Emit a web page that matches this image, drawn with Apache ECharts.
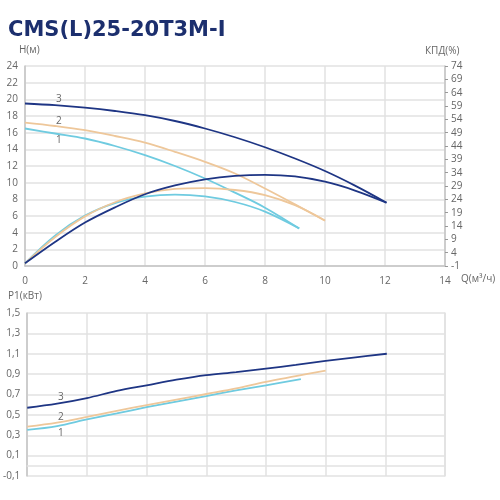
<!DOCTYPE html>
<html><head><meta charset="utf-8">
<script src="https://cdn.jsdelivr.net/npm/echarts@6/dist/echarts.min.js"></script>
<style>html,body{margin:0;padding:0;background:#fff}#c{width:500px;height:500px}</style>
</head><body><div id="c"></div>
<script>
// Flow Q (m3/h)
const q3 = [0,1,2,3,4,5,6,7,8,9,10,11,12.05];
const q2 = [0,1,2,3,4,5,6,7,8,9,10];
const q1 = [0,1,2,3,4,5,6,7,8,9.14];
// Head H (m)
const head3 = [19.5,19.3,19.0,18.6,18.1,17.4,16.5,15.45,14.25,12.9,11.4,9.65,7.6];
const head2 = [17.2,16.8,16.3,15.6,14.8,13.7,12.5,11.1,9.3,7.4,5.45];
const head1 = [16.5,15.9,15.3,14.4,13.3,12.0,10.5,8.8,7.0,4.5];
// Efficiency (%)
const eff3 = [0,8,15.3,21,25.9,29.2,31.5,32.8,33.2,32.6,30.6,27.3,22.75];
const eff2 = [0,9.8,17.6,22.9,26.2,27.9,28.2,27.5,25.6,21.8,16.0];
const eff1 = [0,10.4,17.9,22.6,25.0,25.8,25.1,23.0,19.4,13.1];
// Power P1 (kW)
const p3 = [0.57,0.61,0.665,0.735,0.79,0.845,0.89,0.92,0.955,0.99,1.03,1.065,1.1];
const p2 = [0.385,0.425,0.48,0.54,0.595,0.65,0.705,0.76,0.825,0.88,0.935];
const p1x = [0,1,2,3,4,5,6,7,8,9.17];
const p1 = [0.352,0.39,0.455,0.515,0.575,0.63,0.685,0.74,0.79,0.85];
// Curve labels
const curveNames = ['1','2','3'];
const headLabelY = [15.1,17.4,20.0];
const powerLabelY = [0.32,0.48,0.675];
const labelX = 1.13;

const C3 = '#1e3584', C2 = '#eec79a', C1 = '#6fcbe0';
const gridC = '#e2e2e2', axisC = '#c4c4c4', txtC = '#666';
const FONT = 'Open Sans, sans-serif';

function pairs(xs, ys){ return xs.map((x,i)=>[x, ys[i]]); }
function line(name, data, color, xi, yi, lbl){
  const s = {type:'line', name, data, xAxisIndex:xi, yAxisIndex:yi, smooth:0.35, symbol:'none',
    lineStyle:{color, width:1.8}, z:3, silent:true};
  if (lbl) {
    s.markPoint = {symbol:'circle', symbolSize:0, silent:true,
      label:{show:true, formatter:lbl.t, color:txtC, fontSize:10, fontFamily:FONT},
      data:[{coord:[labelX, lbl.y]}]};
  }
  return s;
}

const chart = echarts.init(document.getElementById('c'), null, {renderer:'canvas'});
const axisLabel = {color:txtC, fontSize:10, fontFamily:FONT};
chart.setOption({
  animation:false,
  title:{text:'CMS(L)25-20T3M-I', left:3, top:15,
    textStyle:{color:'#1c2f6e', fontSize:21, fontWeight:'bold', fontFamily:'DejaVu Sans, sans-serif'}},
  grid:[
    {left:25, right:55, top:66, height:200},
    {left:25, right:55, top:313, height:163}
  ],
  xAxis:[
    {gridIndex:0, type:'value', min:0, max:14, interval:2,
      axisLine:{show:true, lineStyle:{color:axisC, width:1.5}}, axisTick:{show:false},
      axisLabel:Object.assign({margin:10}, axisLabel),
      splitLine:{show:true, lineStyle:{color:gridC, width:1.5}}},
    {gridIndex:1, type:'value', min:0, max:14, interval:2,
      axisLine:{show:true, lineStyle:{color:gridC, width:1.5}}, axisTick:{show:false},
      axisLabel:{show:false},
      splitLine:{show:true, lineStyle:{color:gridC, width:1.5}}}
  ],
  yAxis:[
    {gridIndex:0, type:'value', min:0, max:24, interval:2, position:'left',
      axisLine:{show:true, lineStyle:{color:axisC, width:1.5}}, axisTick:{show:false},
      axisLabel:Object.assign({margin:7}, axisLabel),
      splitLine:{show:true, lineStyle:{color:gridC, width:1.5}}},
    {gridIndex:0, type:'value', min:-1, max:74, interval:5, position:'right',
      axisLine:{show:true, lineStyle:{color:axisC, width:1.5}},
      axisTick:{show:true, inside:false, length:3, lineStyle:{color:'#999'}},
      axisLabel:Object.assign({margin:6}, axisLabel),
      splitLine:{show:false}},
    {gridIndex:1, type:'value', min:-0.1, max:1.5, interval:0.2,
      axisLine:{show:true, lineStyle:{color:axisC, width:1.5}}, axisTick:{show:false},
      axisLabel:Object.assign({margin:7, formatter:v=>{
        const r = Math.round(v*10)/10; return String(r).replace('.',',');}}, axisLabel),
      splitLine:{show:true, lineStyle:{color:gridC, width:1.5}}},
    {gridIndex:1, type:'value', min:-0.1, max:1.5, interval:0.2, position:'right',
      axisLine:{show:true, lineStyle:{color:gridC, width:1.5}}, axisTick:{show:false},
      axisLabel:{show:false}, splitLine:{show:false}}
  ],
  graphic:[
    {type:'text', left:19, top:45, style:{text:'H(м)', fill:txtC, font:'10px '+FONT}},
    {type:'text', left:425, top:46, style:{text:'КПД(%)', fill:txtC, font:'10px '+FONT}},
    {type:'text', left:461, top:274, style:{text:'Q(м³/ч)', fill:txtC, font:'10px '+FONT}},
    {type:'text', left:8, top:291, style:{text:'P1(кВт)', fill:txtC, font:'10px '+FONT}}
  ],
  series:[
    line('H1', pairs(q1, head1), C1, 0, 0, {t:curveNames[0], y:headLabelY[0]}),
    line('H2', pairs(q2, head2), C2, 0, 0, {t:curveNames[1], y:headLabelY[1]}),
    line('H3', pairs(q3, head3), C3, 0, 0, {t:curveNames[2], y:headLabelY[2]}),
    line('E1', pairs(q1, eff1), C1, 0, 1),
    line('E2', pairs(q2, eff2), C2, 0, 1),
    line('E3', pairs(q3, eff3), C3, 0, 1),
    line('P1', pairs(p1x, p1), C1, 1, 2, {t:curveNames[0], y:powerLabelY[0]}),
    line('P2', pairs(q2, p2), C2, 1, 2, {t:curveNames[1], y:powerLabelY[1]}),
    line('P3', pairs(q3, p3), C3, 1, 2, {t:curveNames[2], y:powerLabelY[2]})
  ]
});
</script></body></html>
